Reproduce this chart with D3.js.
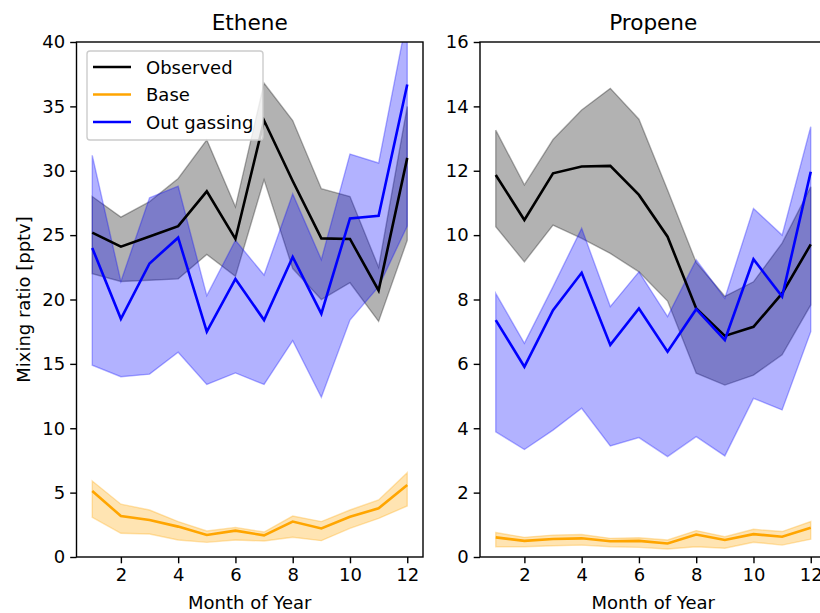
<!DOCTYPE html>
<html>
<head>
<meta charset="utf-8">
<script src="https://cdn.jsdelivr.net/npm/d3@7"></script>
<style>
    body { margin: 0; background: #fff; }
    text { font-family: "DejaVu Sans", sans-serif; fill: #000; }
</style>
</head>
<body>
<div id="chart"></div>
<script>
// months on the x axis
const months = [1, 2, 3, 4, 5, 6, 7, 8, 9, 10, 11, 12];
const xTicks = [2, 4, 6, 8, 10, 12];

// Ethene (pptv)
const etheneObs = [25.2, 24.1, 24.9, 25.7, 28.4, 24.7, 33.9, 29.2, 24.75, 24.7, 20.7, 31.0];
const etheneObsHi = [28.0, 26.4, 27.6, 29.4, 32.4, 27.2, 36.8, 33.9, 28.6, 28.0, 22.5, 35.0];
const etheneObsLo = [22.0, 21.4, 21.5, 21.6, 23.5, 21.8, 29.3, 22.4, 20.0, 21.3, 18.3, 24.6];
const etheneBase = [5.13, 3.18, 2.87, 2.36, 1.71, 2.05, 1.68, 2.75, 2.22, 3.13, 3.78, 5.59];
const etheneBaseHi = [5.9, 4.1, 3.65, 2.75, 2.02, 2.3, 1.94, 3.18, 2.75, 3.65, 4.43, 6.55];
const etheneBaseLo = [3.08, 1.84, 1.79, 1.32, 1.14, 1.32, 1.24, 1.53, 1.27, 2.23, 3.0, 3.96];
const etheneOut = [24.0, 18.5, 22.8, 24.8, 17.5, 21.6, 18.4, 23.3, 18.9, 26.3, 26.5, 36.7];
const etheneOutHi = [31.2, 21.4, 27.9, 28.8, 20.3, 24.6, 21.9, 28.2, 23.1, 31.3, 30.6, 42.0];
const etheneOutLo = [14.9, 14.0, 14.2, 15.9, 13.4, 14.3, 13.4, 16.8, 12.4, 18.4, 21.0, 25.7];
const etheneTicks = [0, 5, 10, 15, 20, 25, 30, 35, 40];

// Propene (pptv)
const propeneObs = [11.87, 10.47, 11.92, 12.13, 12.15, 11.25, 9.95, 7.72, 6.87, 7.15, 8.19, 9.71];
const propeneObsHi = [13.26, 11.56, 12.97, 13.89, 14.56, 13.6, 11.4, 9.15, 8.1, 8.55, 9.75, 11.5];
const propeneObsLo = [10.26, 9.17, 10.31, 9.9, 9.43, 8.86, 7.95, 5.71, 5.34, 5.65, 6.28, 7.83];
const propeneBase = [0.61, 0.5, 0.56, 0.58, 0.49, 0.5, 0.42, 0.7, 0.53, 0.71, 0.63, 0.91];
const propeneBaseHi = [0.76, 0.61, 0.68, 0.7, 0.58, 0.6, 0.53, 0.82, 0.63, 0.86, 0.79, 1.1];
const propeneBaseLo = [0.32, 0.32, 0.35, 0.37, 0.32, 0.3, 0.25, 0.32, 0.27, 0.46, 0.37, 0.55];
const propeneOut = [7.36, 5.91, 7.67, 8.83, 6.59, 7.72, 6.38, 7.7, 6.74, 9.25, 8.09, 11.97];
const propeneOutHi = [8.19, 6.64, 8.4, 10.21, 7.78, 8.86, 7.47, 9.23, 8.04, 10.83, 10.0, 13.37];
const propeneOutLo = [3.89, 3.34, 3.94, 4.62, 3.45, 3.71, 3.12, 3.74, 3.14, 4.93, 4.57, 7.0];
const propeneTicks = [0, 2, 4, 6, 8, 10, 12, 14, 16];

const legendNames = ["Observed", "Base", "Out gassing"];
const seriesColors = ["#000000", "#ffa500", "#0000ff"];

const W = 820, H = 613;
const plotTop = 42, plotBottom = 557;

const svg = d3.select("#chart").append("svg")
    .attr("width", W)
    .attr("height", H);

function drawPanel(id, left, right, title, yMax, yTicks, series, showLegend, showYLabel) {
    let x = d3.scaleLinear().domain([0.45, 12.55]).range([left, right]);
    let y = d3.scaleLinear().domain([0, yMax]).range([plotBottom, plotTop]);

    svg.append("clipPath").attr("id", "clip-" + id)
        .append("rect")
        .attr("x", left).attr("y", plotTop)
        .attr("width", right - left).attr("height", plotBottom - plotTop);

    let g = svg.append("g");
    let plot = g.append("g").attr("clip-path", "url(#clip-" + id + ")");

    let area = d3.area()
        .x((d, i) => x(months[i]))
        .y0(d => y(d[0]))
        .y1(d => y(d[1]));
    let line = d3.line()
        .x((d, i) => x(months[i]))
        .y(d => y(d));

    // bands first (they sit under every line, like matplotlib)
    series.forEach((s, k) => {
        plot.append("path")
            .datum(s.lo.map((v, i) => [v, s.hi[i]]))
            .attr("d", area)
            .attr("fill", seriesColors[k])
            .attr("fill-opacity", 0.3)
            .attr("stroke", seriesColors[k])
            .attr("stroke-opacity", 0.3)
            .attr("stroke-width", 1.4);
    });
    series.forEach((s, k) => {
        plot.append("path")
            .datum(s.mid)
            .attr("d", line)
            .attr("fill", "none")
            .attr("stroke", seriesColors[k])
            .attr("stroke-width", 2.6)
            .attr("stroke-linejoin", "miter");
    });

    // frame
    g.append("rect")
        .attr("x", left).attr("y", plotTop)
        .attr("width", right - left).attr("height", plotBottom - plotTop)
        .attr("fill", "none")
        .attr("stroke", "#000")
        .attr("stroke-width", 1.4);

    // axes
    let xAxis = d3.axisBottom(x).tickValues(xTicks).tickSize(6.3).tickPadding(5);
    let yAxis = d3.axisLeft(y).tickValues(yTicks).tickSize(6.3).tickPadding(5);

    let gx = g.append("g").attr("transform", "translate(0," + plotBottom + ")").call(xAxis);
    let gy = g.append("g").attr("transform", "translate(" + left + ",0)").call(yAxis);
    [gx, gy].forEach(a => {
        a.select(".domain").remove();
        a.selectAll("line").attr("stroke", "#000").attr("stroke-width", 1.4);
        a.selectAll("text")
            .style("font-family", "DejaVu Sans")
            .style("font-size", "18px")
            .attr("fill", "#000");
    });

    g.append("text")
        .attr("x", (left + right) / 2)
        .attr("y", 609)
        .attr("text-anchor", "middle")
        .style("font-size", "18px")
        .text("Month of Year");

    g.append("text")
        .attr("x", (left + right) / 2)
        .attr("y", 30)
        .attr("text-anchor", "middle")
        .style("font-size", "21.6px")
        .text(title);

    if (showYLabel) {
        g.append("text")
            .attr("transform", "translate(30," + (plotTop + plotBottom) / 2 + ") rotate(-90)")
            .attr("text-anchor", "middle")
            .style("font-size", "18px")
            .text("Mixing ratio [pptv]");
    }

    if (showLegend) {
        let lg = g.append("g");
        lg.append("rect")
            .attr("x", 87).attr("y", 51)
            .attr("width", 176).attr("height", 89)
            .attr("rx", 3)
            .attr("fill", "#fff").attr("fill-opacity", 0.8)
            .attr("stroke", "#cccccc").attr("stroke-width", 1.4);
        legendNames.forEach((name, k) => {
            let ly = 67 + k * 27.5;
            lg.append("line")
                .attr("x1", 93).attr("x2", 131)
                .attr("y1", ly).attr("y2", ly)
                .attr("stroke", seriesColors[k])
                .attr("stroke-width", 2.6);
            lg.append("text")
                .attr("x", 146).attr("y", ly + 6.5)
                .style("font-size", "18px")
                .text(name);
        });
    }
}

drawPanel("ethene", 76.5, 423, "Ethene", 40, etheneTicks, [
    { mid: etheneObs, hi: etheneObsHi, lo: etheneObsLo },
    { mid: etheneBase, hi: etheneBaseHi, lo: etheneBaseLo },
    { mid: etheneOut, hi: etheneOutHi, lo: etheneOutLo }
], true, true);

drawPanel("propene", 480, 826.5, "Propene", 16, propeneTicks, [
    { mid: propeneObs, hi: propeneObsHi, lo: propeneObsLo },
    { mid: propeneBase, hi: propeneBaseHi, lo: propeneBaseLo },
    { mid: propeneOut, hi: propeneOutHi, lo: propeneOutLo }
], false, false);
</script>
</body>
</html>
